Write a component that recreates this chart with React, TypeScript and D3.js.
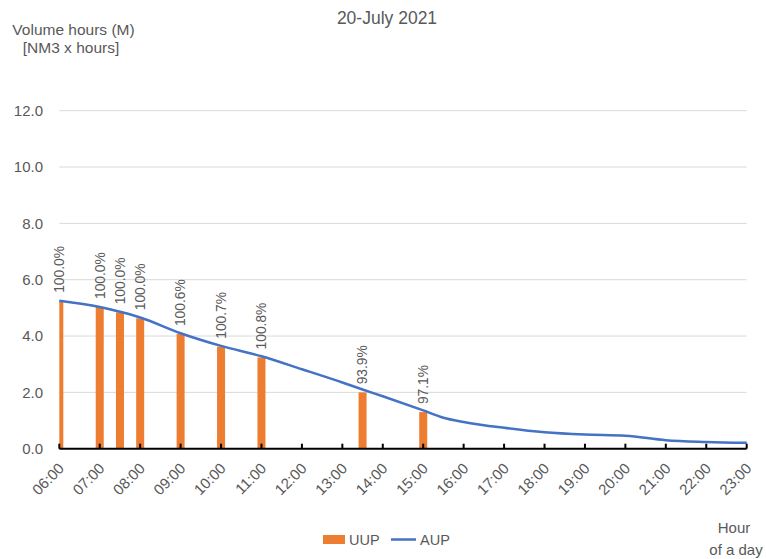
import React from "react";
import * as d3 from "d3";

// UUP bars (hour as decimal, value in M NM3·hours, label shown above)
const barHours = [6, 7, 7.5, 8, 9, 10, 11, 13.5, 15];
const barValues = [5.25, 5.03, 4.84, 4.63, 4.07, 3.62, 3.24, 2.0, 1.3];
const barLabels = ["100.0%", "100.0%", "100.0%", "100.0%", "100.6%", "100.7%", "100.8%", "93.9%", "97.1%"];

// AUP line
const lineHours = [6, 7, 7.5, 8, 9, 10, 11, 12, 13, 13.5, 14, 15, 15.5, 16, 17, 18, 19, 20, 21, 22, 23];
const lineValues = [5.25, 5.03, 4.86, 4.66, 4.1, 3.65, 3.28, 2.82, 2.35, 2.1, 1.86, 1.36, 1.1, 0.95, 0.74, 0.58, 0.5, 0.46, 0.3, 0.24, 0.21];

const yTicks = [0, 2, 4, 6, 8, 10, 12];
const hourTicks = d3.range(6, 24);

const W = 766;
const H = 559;
const FONT = "'Liberation Sans', Arial, sans-serif";
const GREY = "#595959";

export default function App() {
  const x = d3.scaleLinear().domain([6, 23]).range([59.3, 746.7]);
  const y = d3.scaleLinear().domain([0, 12]).range([448.7, 110.7]);
  const barW = 8;

  const line = d3
    .line<number>()
    .x((_, i) => x(lineHours[i]))
    .y((d) => y(d))
    .curve(d3.curveMonotoneX);

  return (
    <svg
      width={W}
      height={H}
      style={{ position: "absolute", left: 0, top: 0, background: "#fff" }}
      fontFamily={FONT}
    >
      <defs>
        <clipPath id="plot">
          <rect x={x(6)} y={0} width={x(23) - x(6)} height={y(0)} />
        </clipPath>
      </defs>

      {/* Title and axis titles */}
      <text x={387} y={24} textAnchor="middle" fontSize={17.5} fill={GREY}>
        20-July 2021
      </text>
      <text x={73.5} y={35} textAnchor="middle" fontSize={15.5} fill={GREY}>
        Volume hours (M)
      </text>
      <text x={71} y={53} textAnchor="middle" fontSize={15.5} fill={GREY}>
        [NM3 x hours]
      </text>
      <text x={734} y={533} textAnchor="middle" fontSize={15} fill={GREY}>
        Hour
      </text>
      <text x={736} y={555} textAnchor="middle" fontSize={15} fill={GREY}>
        of a day
      </text>

      {/* Gridlines and y tick labels */}
      {yTicks.map((t) => (
        <g key={t}>
          {t > 0 && (
            <line x1={x(6)} x2={x(23)} y1={y(t)} y2={y(t)} stroke="#d9d9d9" strokeWidth={1} />
          )}
          <text x={43} y={y(t)} dy="0.35em" textAnchor="end" fontSize={15} fill={GREY}>
            {t.toFixed(1)}
          </text>
        </g>
      ))}

      {/* UUP bars */}
      <g clipPath="url(#plot)">
        {barHours.map((h, i) => (
          <rect
            key={h}
            x={x(h) - barW / 2}
            y={y(barValues[i])}
            width={barW}
            height={y(0) - y(barValues[i])}
            fill="#ed7d31"
          />
        ))}
      </g>

      {/* AUP line */}
      <path d={line(lineValues) || ""} fill="none" stroke="#4472c4" strokeWidth={2.5} strokeLinejoin="round" />

      {/* Bar value labels */}
      {barHours.map((h, i) => (
        <text
          key={h}
          transform={`translate(${x(h)},${y(barValues[i]) - 8}) rotate(-90)`}
          dy="0.35em"
          textAnchor="start"
          fontSize={13.8}
          fill={GREY}
        >
          {barLabels[i]}
        </text>
      ))}

      {/* X axis */}
      <line x1={x(6)} x2={x(23)} y1={y(0)} y2={y(0)} stroke="#000" strokeWidth={2} />
      {hourTicks.map((h) => (
        <g key={h}>
          <line x1={x(h)} x2={x(h)} y1={y(0)} y2={y(0) - 5} stroke="#000" strokeWidth={2} />
          <text
            transform={`translate(${x(h) + 2},${y(0) + 17}) rotate(-45)`}
            textAnchor="end"
            dy="0.35em"
            fontSize={15}
            fill={GREY}
          >
            {String(h).padStart(2, "0") + ":00"}
          </text>
        </g>
      ))}

      {/* Legend */}
      <rect x={323} y={535} width={22} height={9} fill="#ed7d31" />
      <text x={349} y={539.5} dy="0.35em" fontSize={14.5} fill={GREY}>
        UUP
      </text>
      <line x1={391} x2={416} y1={539.5} y2={539.5} stroke="#4472c4" strokeWidth={2.5} />
      <text x={420} y={539.5} dy="0.35em" fontSize={14.5} fill={GREY}>
        AUP
      </text>
    </svg>
  );
}
